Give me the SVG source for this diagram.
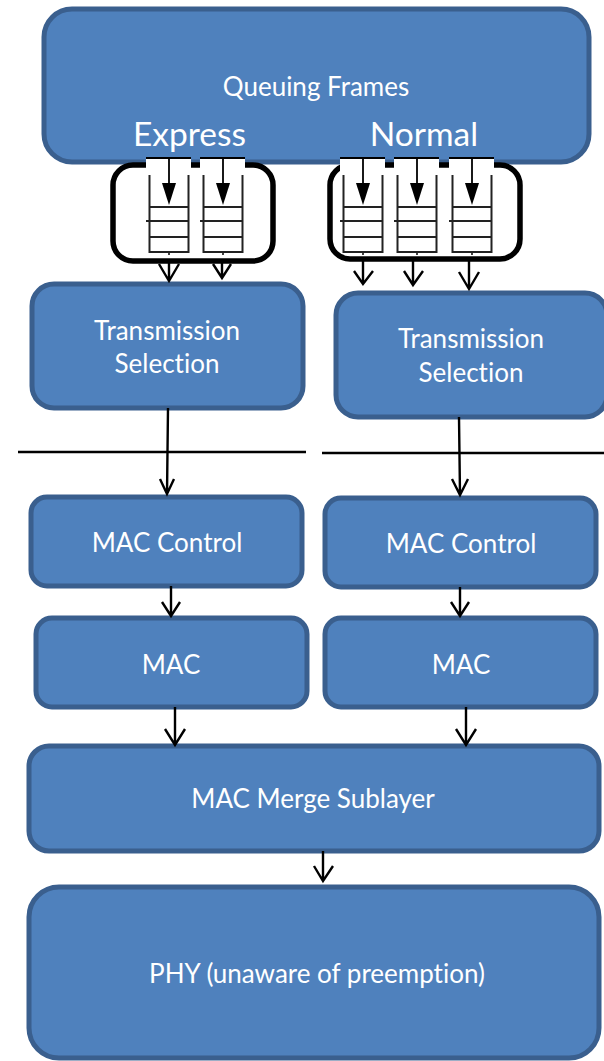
<svg xmlns="http://www.w3.org/2000/svg" width="604" height="1061" viewBox="0 0 604 1061">
<style>
.b{fill:#4f81bd;stroke:#3a5f8e;stroke-width:5}
.t{font-family:"Lato","Open Sans",sans-serif;fill:#fff;font-size:26px;text-anchor:middle;font-variant-ligatures:none}
.c{fill:none;stroke:#000;stroke-width:2.4}
.q{fill:none;stroke:#222;stroke-width:2}
.f{fill:#fff;stroke:#000;stroke-width:5.5}
</style>
<defs>
<g id="queue">
<rect x="-23" y="0" width="45" height="18" fill="#fff"/>
<path d="M-23 0H22" stroke="#000" stroke-width="2" fill="none"/>
<path class="q" d="M-19.500 17V94H19.500V17M-19.500 49H19.500M-19.500 63H19.500M-19.500 79H19.500M-23 63H-19.500"/>
<path d="M0 0V30" stroke="#000" stroke-width="1.800" fill="none"/>
<path d="M-7 25H7L0 47Z" fill="#000"/>
<path d="M0 94V97" stroke="#222" stroke-width="1.700"/>
</g>
</defs>
<g id="queuing-frames"><rect class="b" x="44" y="9" width="545" height="153" rx="28"/>
<text class="t" x="316" y="96">Queuing Frames</text>
<text class="t" x="189.500" y="146" style="font-size:33.500px">Express</text>
<text class="t" x="424" y="146" style="font-size:33.500px">Normal</text></g>
<g id="express-queues"><rect class="f" x="113" y="165" width="160" height="96" rx="20"/>
<use href="#queue" x="169" y="158"/><use href="#queue" x="223" y="158"/></g>
<g id="normal-queues"><rect class="f" x="330" y="165" width="190" height="94" rx="20"/>
<use href="#queue" x="363" y="158"/><use href="#queue" x="417" y="158"/><use href="#queue" x="472" y="158"/></g>
<g id="ts-express"><rect class="b" x="32" y="284" width="271" height="124" rx="22"/>
<text class="t" x="167" y="340">Transmission</text><text class="t" x="167" y="373">Selection</text></g>
<g id="ts-normal"><rect class="b" x="336" y="293" width="271" height="124" rx="22"/>
<text class="t" x="471" y="348">Transmission</text><text class="t" x="471" y="382">Selection</text></g>
<g id="mac-control-express"><rect class="b" x="31" y="497" width="271" height="89" rx="16"/>
<text class="t" x="167" y="552">MAC Control</text></g>
<g id="mac-control-normal"><rect class="b" x="325" y="498" width="271" height="89" rx="16"/>
<text class="t" x="461" y="553">MAC Control</text></g>
<g id="mac-express"><rect class="b" x="36" y="618" width="271" height="89" rx="16"/>
<text class="t" x="171" y="674">MAC</text></g>
<g id="mac-normal"><rect class="b" x="325" y="618" width="271" height="89" rx="16"/>
<text class="t" x="461" y="674">MAC</text></g>
<g id="mac-merge"><rect class="b" x="29" y="746" width="570" height="105" rx="20"/>
<text class="t" x="313" y="808">MAC Merge Sublayer</text></g>
<g id="phy"><rect class="b" x="29" y="887" width="570" height="171" rx="30"/>
<text class="t" x="317" y="983">PHY (unaware of preemption)</text></g>
<g id="connectors">
<path class="c" d="M18 452H306M322 453H604"/>
<path class="c" d="M168 408L167 494M160 479L167 494L174 479"/>
<path class="c" d="M459 417L460 495M452 479L460 495L468 479"/>
<path class="c" d="M169 261V281M159 264L169 281L179 264"/>
<path class="c" d="M222 261V278M213 264L222 278L231 264"/>
<path class="c" d="M363 259V284M354 271L363 284L373 271"/>
<path class="c" d="M413 259V285M404 271L413 285L423 271"/>
<path class="c" d="M469 259V289M459 272L469 289L479 272"/>
<path class="c" d="M171 586V616M162 602L171 616L180 602"/>
<path class="c" d="M460 587V616M451 602L460 616L469 602"/>
<path class="c" d="M175 707V745M165 729L175 745L185 729"/>
<path class="c" d="M466 707V745M456 729L466 745L476 729"/>
<path class="c" d="M323 851V881M314 866L323 881L333 866"/>
</g>
</svg>
